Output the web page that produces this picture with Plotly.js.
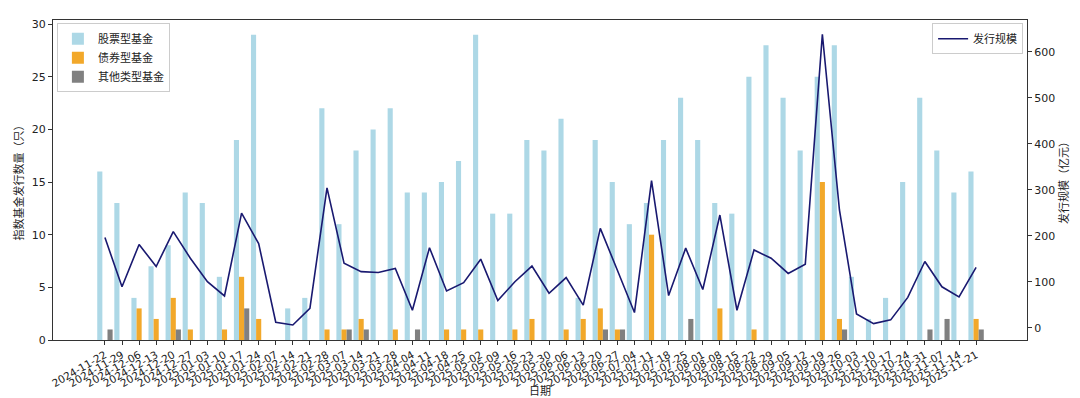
<!DOCTYPE html>
<html>
<head>
<meta charset="utf-8">
<script src="https://cdn.plot.ly/plotly-3.0.1.min.js"></script>
<style>html,body{margin:0;padding:0;background:#fff;}#chart{width:1080px;height:398px;}</style>
</head>
<body>
<div id="chart"></div>
<script>
const dates = ['2024-11-22','2024-11-29','2024-12-06','2024-12-13','2024-12-20','2024-12-27','2025-01-03','2025-01-10','2025-01-17','2025-01-24','2025-02-07','2025-02-14','2025-02-21','2025-02-28','2025-03-07','2025-03-14','2025-03-21','2025-03-28','2025-04-04','2025-04-11','2025-04-18','2025-04-25','2025-05-02','2025-05-09','2025-05-16','2025-05-23','2025-05-30','2025-06-06','2025-06-13','2025-06-20','2025-06-27','2025-07-04','2025-07-11','2025-07-18','2025-07-25','2025-08-01','2025-08-08','2025-08-15','2025-08-22','2025-08-29','2025-09-05','2025-09-12','2025-09-19','2025-09-26','2025-10-03','2025-10-10','2025-10-17','2025-10-24','2025-10-31','2025-11-07','2025-11-14','2025-11-21'];
const stockFunds = [16,13,4,7,9,14,13,6,19,29,0,3,4,22,11,18,20,22,14,14,15,17,29,12,12,19,18,21,4,19,15,11,13,19,23,19,13,12,25,28,23,18,25,28,6,2,4,15,23,18,14,16];
const bondFunds  = [0,0,3,2,4,1,0,1,6,2,0,0,0,1,1,2,0,1,0,0,1,1,1,0,1,2,0,1,2,3,1,0,10,0,0,0,3,0,1,0,0,0,15,2,0,0,0,0,0,0,0,2];
const otherFunds = [1,0,0,0,1,0,0,0,3,0,0,0,0,0,1,1,0,0,1,0,0,0,0,0,0,0,0,0,0,1,1,0,0,0,2,0,0,0,0,0,0,0,0,1,0,0,0,0,1,2,0,1];
const issueScale = [196,89,181,133,209,151,100,69,249,183,12,6,42,304,140,122,120,129,38,174,80,98,149,59,100,134,75,109,49,216,125,33,320,70,173,83,245,38,169,151,118,138,638,256,30,9,17,66,144,89,67,131];

const seriesNames = ['股票型基金','债券型基金','其他类型基金'];
const lineName = '发行规模';

const FONT = 'DejaVu Sans, Noto Sans CJK SC, sans-serif';
const CJK = 'Noto Sans CJK SC, DejaVu Sans, sans-serif';

const barW = 0.3;
const traces = [
  {type:'bar', name:seriesNames[0], x:dates, y:stockFunds, width:barW, offset:-0.45,
   marker:{color:'#ADD8E6'}, legend:'legend'},
  {type:'bar', name:seriesNames[1], x:dates, y:bondFunds, width:barW, offset:-0.15,
   marker:{color:'#F2A82A'}, legend:'legend'},
  {type:'bar', name:seriesNames[2], x:dates, y:otherFunds, width:barW, offset:0.15,
   marker:{color:'#808080'}, legend:'legend'},
  {type:'scatter', mode:'lines', name:lineName, x:dates, y:issueScale, yaxis:'y2',
   line:{color:'#191970', width:1.6}, legend:'legend2'}
];

const axisLine = '#333333';
const layout = {
  width:1080, height:398,
  margin:{l:53, r:53, t:20, b:58},
  paper_bgcolor:'#ffffff', plot_bgcolor:'#ffffff',
  font:{family:FONT, size:11, color:'#222'},
  barmode:'overlay',
  showlegend:true,
  xaxis:{
    type:'category', range:[-3.04, 53.98],
    tickangle:-30, ticks:'outside', ticklen:4, tickcolor:axisLine,
    showline:true, mirror:true, linecolor:axisLine, linewidth:1,
    showgrid:false, zeroline:false, automargin:false,
    tickfont:{family:FONT, size:10.5, color:'#222'},
    title:{text:'日期', font:{family:CJK, size:11, color:'#222'}}
  },
  yaxis:{
    range:[0, 30.39], tick0:0, dtick:5,
    ticks:'outside', ticklen:4, tickcolor:axisLine,
    showline:true, linecolor:axisLine, linewidth:1,
    showgrid:false, zeroline:false, automargin:false,
    tickfont:{family:FONT, size:11, color:'#222'},
    title:{text:'指数基金发行数量（只）', font:{family:CJK, size:11, color:'#222'}, standoff:5}
  },
  yaxis2:{
    overlaying:'y', side:'right', range:[-26.7, 669], tick0:0, dtick:100,
    ticks:'outside', ticklen:4, tickcolor:axisLine,
    showline:true, linecolor:axisLine, linewidth:1,
    showgrid:false, zeroline:false, automargin:false,
    tickfont:{family:FONT, size:11, color:'#222'},
    title:{text:'发行规模（亿元）', font:{family:CJK, size:11, color:'#222'}, standoff:4}
  },
  legend:{
    x:0.004, y:0.99, xanchor:'left', yanchor:'top',
    bgcolor:'rgba(255,255,255,0.85)', bordercolor:'#cccccc', borderwidth:1,
    font:{family:CJK, size:11, color:'#222'}, itemwidth:30, tracegroupgap:0
  },
  legend2:{
    x:0.996, y:0.99, xanchor:'right', yanchor:'top',
    bgcolor:'rgba(255,255,255,0.85)', bordercolor:'#cccccc', borderwidth:1,
    font:{family:CJK, size:11, color:'#222'}, itemwidth:30
  }
};

Plotly.newPlot('chart', traces, layout, {displayModeBar:false, staticPlot:true});
</script>
</body>
</html>
